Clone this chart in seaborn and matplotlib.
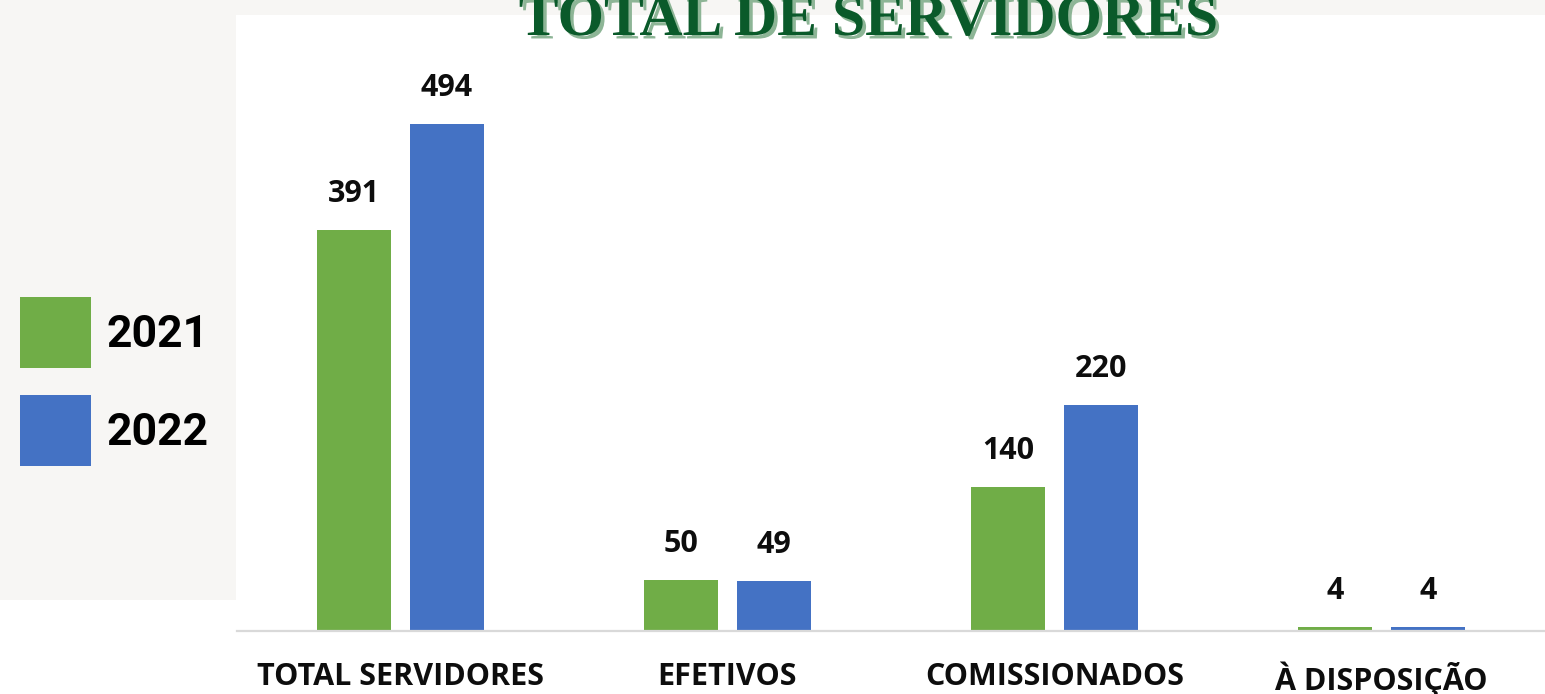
import matplotlib
matplotlib.use("Agg")
import matplotlib.pyplot as plt
import matplotlib.patheffects as pe
from matplotlib.patches import Rectangle
from matplotlib import font_manager as fm
import seaborn as sns
import pandas as pd

# ---- data ----
categories = ["TOTAL SERVIDORES", "EFETIVOS", "COMISSIONADOS", "À DISPOSIÇÃO"]
years = ["2021", "2022"]
values_2021 = [391, 50, 140, 4]
values_2022 = [494, 49, 220, 4]
palette = ["#70ad47", "#4472c4"]
title = "TOTAL DE SERVIDORES"

df = pd.DataFrame({
    "categoria": categories * 2,
    "ano": [years[0]] * len(categories) + [years[1]] * len(categories),
    "valor": values_2021 + values_2022,
})

sns.set_theme(style="white")
plt.rcParams["font.family"] = ["Open Sans", "DejaVu Sans"]

W, H = 1545, 694
fig = plt.figure(figsize=(W / 100, H / 100), dpi=100, facecolor="white")
bg = "#f7f6f4"
fig.patches.append(Rectangle((0, 1 - 15 / H), 1, 15 / H, transform=fig.transFigure,
                             facecolor=bg, edgecolor="none", zorder=0))
fig.patches.append(Rectangle((0, (H - 600) / H), 236 / W, (600 - 15) / H, transform=fig.transFigure,
                             facecolor=bg, edgecolor="none", zorder=0))

ax = fig.add_axes([237 / W, (H - 631) / H, 1 - 237 / W, (631 - 15) / H])
ax.set_facecolor("white")

sns.barplot(data=df, x="categoria", y="valor", hue="ano", palette=palette,
            width=0.569, gap=0.204, saturation=1, linewidth=0, ax=ax, legend=True)

ax.set_xlim(-0.5, len(categories) - 0.5)
ax.set_ylim(0, 600)
ax.set_xlabel("")
ax.set_ylabel("")
ax.set_yticks([])
for s in ["left", "right", "top"]:
    ax.spines[s].set_visible(False)
ax.spines["bottom"].set_color("#d9d9d9")
ax.spines["bottom"].set_linewidth(1.6)
ax.tick_params(axis="x", length=0, pad=22, labelsize=22, labelcolor="#0d0d0d")
for lbl in ax.get_xticklabels():
    lbl.set_fontweight("bold")

for c in ax.containers:
    ax.bar_label(c, padding=15, fontsize=22, fontweight="bold", color="#0d0d0d")

handles, labels = ax.get_legend_handles_labels()
ax.get_legend().remove()
fs = 32
lp = fm.FontProperties(family=["Roboto", "DejaVu Sans"], weight="bold", size=fs)
F = fs * 100 / 72  # font size in px
hh = (71 / F - 0.245) / 0.65
fig.legend(handles, labels, loc="upper left", bbox_to_anchor=(20 / W, 1 - 297 / H),
           bbox_transform=fig.transFigure, frameon=False, borderpad=0, borderaxespad=0,
           handlelength=71 / F, handleheight=hh, handletextpad=15 / F, labelspacing=27 / F,
           prop=lp, labelcolor="#000000")

fig.text(868 / W, 1 - 35 / H, title, ha="center", va="baseline", fontsize=43,
         family="Liberation Serif", fontweight="bold", color="#0a5a2a",
         path_effects=[pe.withSimplePatchShadow(offset=(2.5, -2.5), shadow_rgbFace="#8db596", alpha=1)])

fig.savefig("out.png", dpi=100, facecolor=fig.get_facecolor())
